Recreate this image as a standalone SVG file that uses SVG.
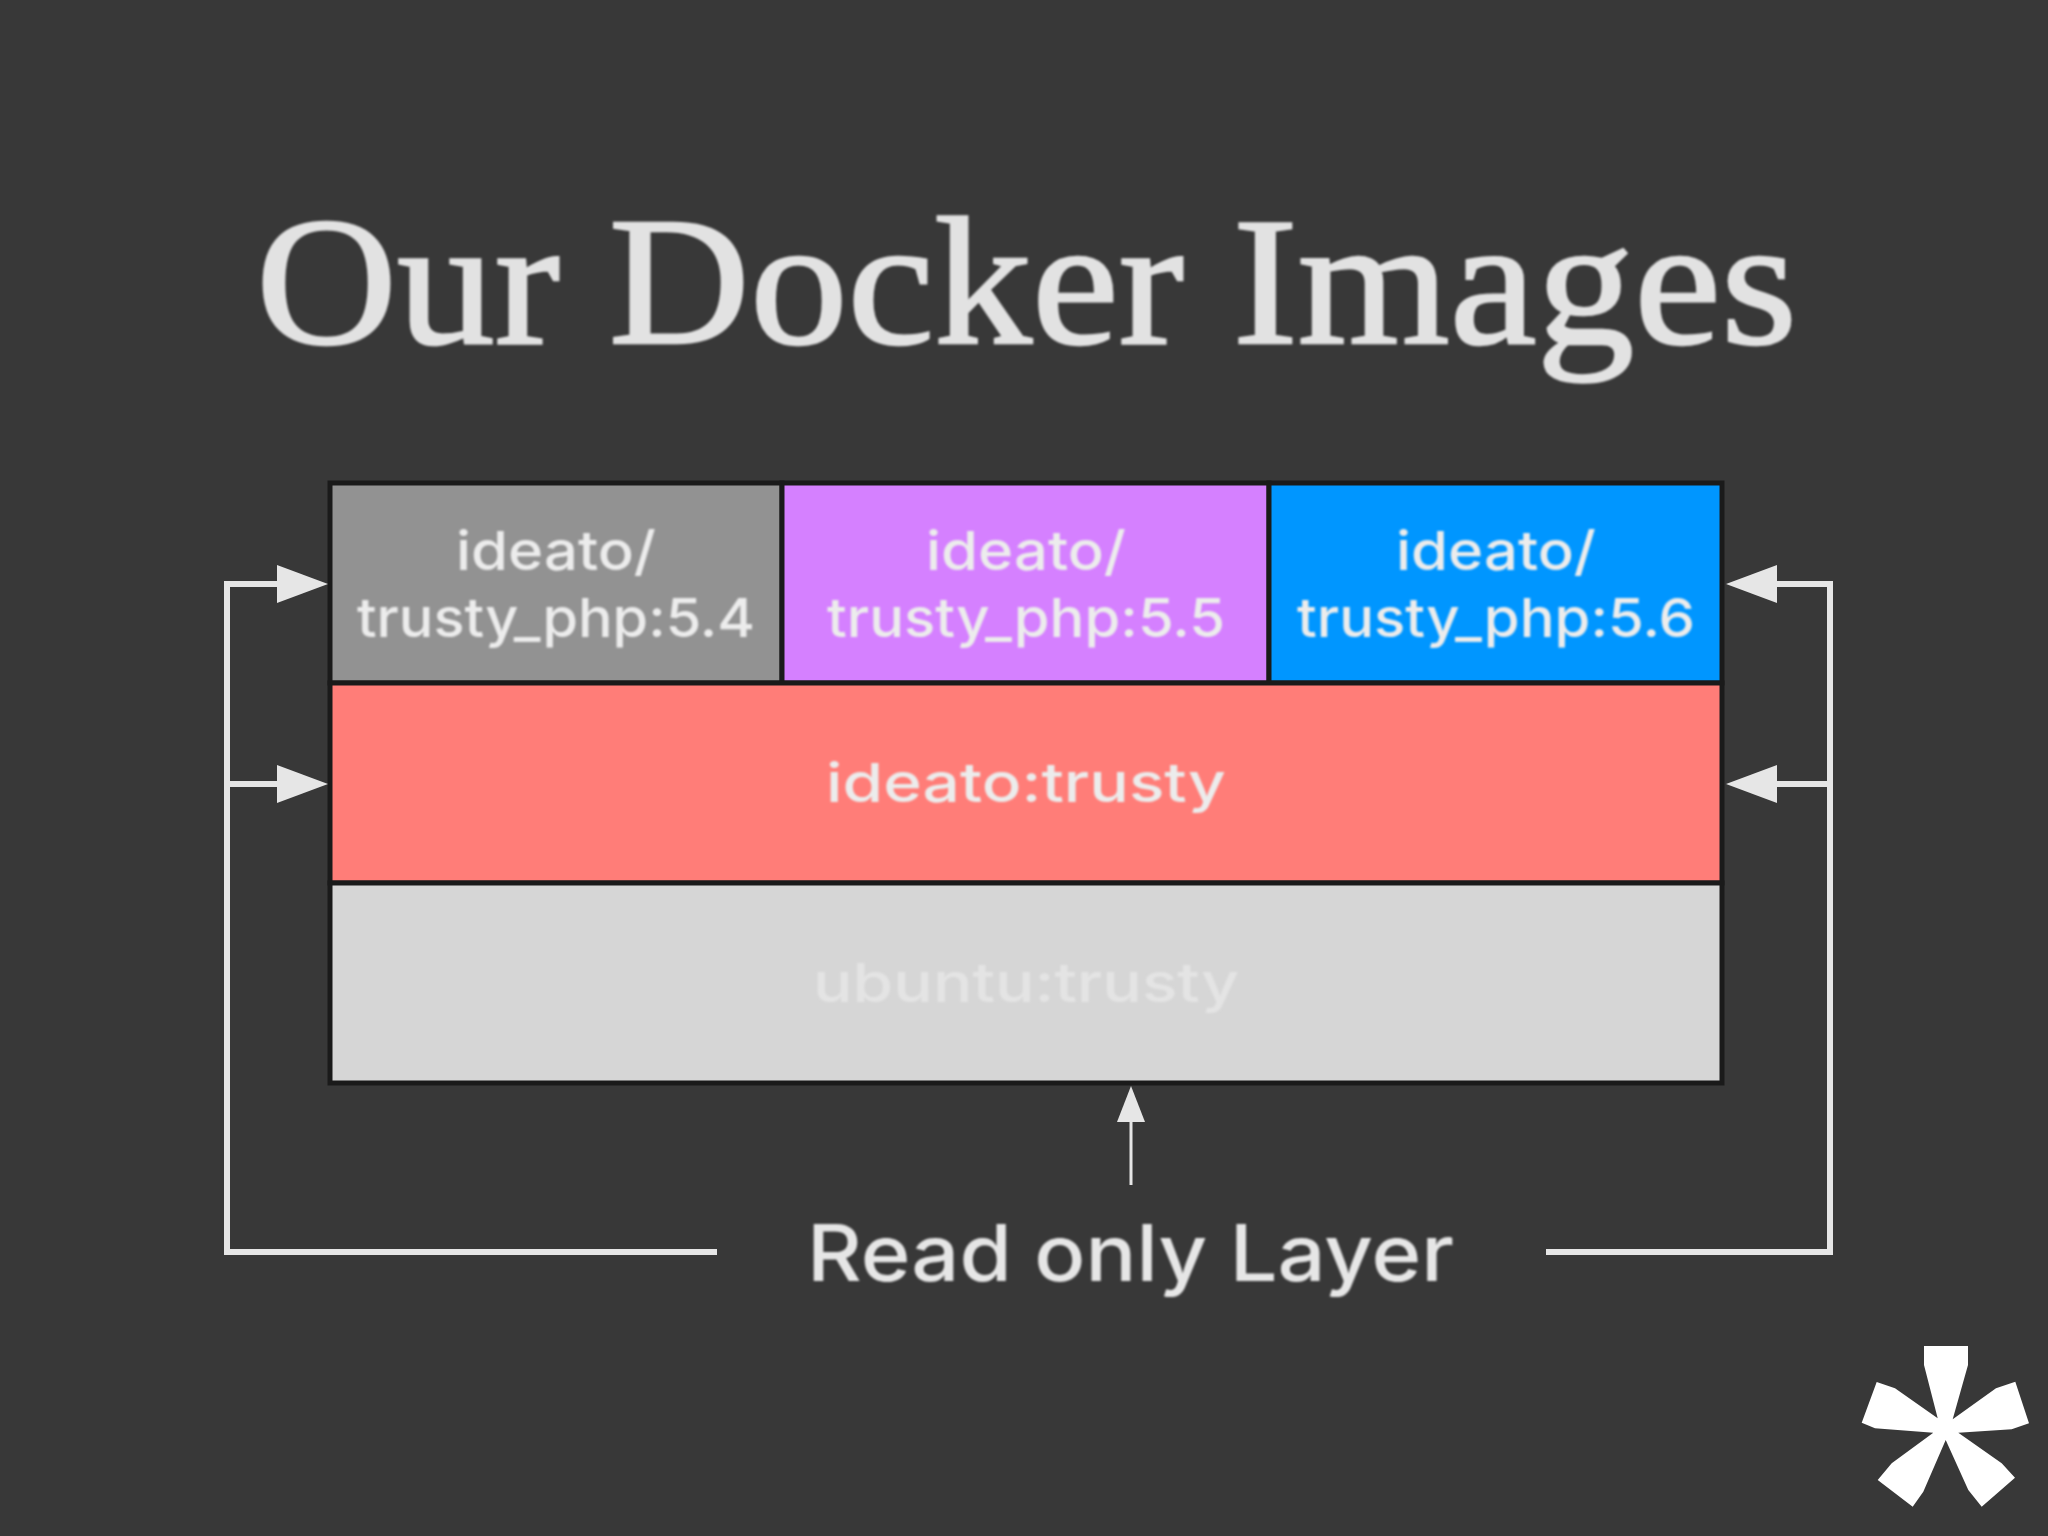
<svg xmlns="http://www.w3.org/2000/svg" width="2048" height="1536" viewBox="0 0 2048 1536">
<style>
.layer{stroke:#1a1a1a;stroke-width:5}
.lbl{font-family:"Inter","Liberation Sans",sans-serif;font-size:54px;font-weight:500;fill:#ececec;text-anchor:middle;filter:url(#soft)}
.title{font-family:"Liberation Serif",serif;font-size:183px;fill:#e2e2e2;stroke:#e2e2e2;stroke-width:2.5;filter:url(#soft)}
.cap{font-family:"Inter","Liberation Sans",sans-serif;font-size:78px;font-weight:500;fill:#e6e6e6;filter:url(#soft)}
.conn{fill:none;stroke:#e6e6e6;stroke-width:6}
</style>
<defs>
<filter id="soft" x="-5%" y="-20%" width="110%" height="140%"><feGaussianBlur stdDeviation="0.8"/></filter>
<marker id="big" markerUnits="userSpaceOnUse" markerWidth="52" markerHeight="38" refX="0" refY="19" orient="auto"><path d="M0 0L51 19L0 38Z" fill="#e6e6e6"/></marker>
<marker id="small" markerUnits="userSpaceOnUse" markerWidth="37" markerHeight="28" refX="0" refY="14" orient="auto"><path d="M0 0L36 14L0 28Z" fill="#e6e6e6"/></marker>
</defs>
<rect width="2048" height="1536" fill="#383838"/>
<text class="title" x="256" y="343" textLength="1541" lengthAdjust="spacingAndGlyphs">Our Docker Images</text>
<g id="node-php54"><rect class="layer" x="330" y="483" width="452" height="200" fill="#929292"/><text class="lbl" x="556" y="570" textLength="200" lengthAdjust="spacingAndGlyphs">ideato/</text><text class="lbl" x="556" y="637" textLength="398" lengthAdjust="spacingAndGlyphs">trusty_php:5.4</text></g>
<g id="node-php55"><rect class="layer" x="782" y="483" width="487" height="200" fill="#d580ff"/><text class="lbl" x="1026" y="570" textLength="200" lengthAdjust="spacingAndGlyphs">ideato/</text><text class="lbl" x="1026" y="637" textLength="398" lengthAdjust="spacingAndGlyphs">trusty_php:5.5</text></g>
<g id="node-php56"><rect class="layer" x="1269" y="483" width="453" height="200" fill="#0096ff"/><text class="lbl" x="1496" y="570" textLength="200" lengthAdjust="spacingAndGlyphs">ideato/</text><text class="lbl" x="1496" y="637" textLength="398" lengthAdjust="spacingAndGlyphs">trusty_php:5.6</text></g>
<g id="node-ideato"><rect class="layer" x="330" y="683" width="1392" height="200" fill="#ff7d78"/><text class="lbl" x="1026" y="802" textLength="400" lengthAdjust="spacingAndGlyphs">ideato:trusty</text></g>
<g id="node-ubuntu"><rect class="layer" x="330" y="883" width="1392" height="200" fill="#d6d6d6"/><text class="lbl" x="1026" y="1002" textLength="426" lengthAdjust="spacingAndGlyphs" style="fill:#e4e4e4">ubuntu:trusty</text></g>
<g id="connectors">
<path class="conn" d="M717 1252H227V584H277" marker-end="url(#big)"/>
<path class="conn" d="M227 784H277" marker-end="url(#big)"/>
<path class="conn" d="M1546 1252H1830V584H1777" marker-end="url(#big)"/>
<path class="conn" d="M1830 784H1777" marker-end="url(#big)"/>
<path class="conn" style="stroke-width:3" d="M1131 1185V1122" marker-end="url(#small)"/>
</g>
<g id="node-label"><text class="cap" x="807" y="1281" textLength="647" lengthAdjust="spacingAndGlyphs">Read only Layer</text></g>
<polygon id="asterisk" fill="#ffffff" points="1924,1346 1968,1346 1968,1365 1952.7,1419.3 1996,1388.3 2015.3,1381.7 2029,1423.3 2011.7,1429.3 1958.3,1432.7 2001.7,1463.3 2015,1477.7 1981.7,1506.7 1968.3,1490 1945.7,1440 1923.3,1491.7 1912.7,1506.7 1877.7,1480 1891.7,1463.3 1933.3,1432.7 1875,1428.3 1861.7,1422.7 1876.7,1382 1895,1388.3 1937.7,1418.3 1924,1365"/>
</svg>
